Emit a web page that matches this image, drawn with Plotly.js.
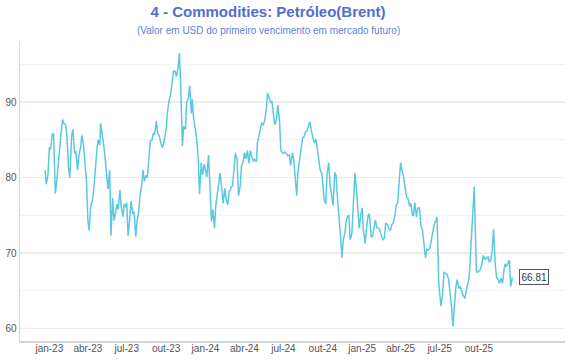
<!DOCTYPE html>
<html>
<head>
<meta charset="utf-8">
<script src="https://cdn.plot.ly/plotly-3.0.1.min.js"></script>
<style>
  html, body { margin: 0; padding: 0; background: #ffffff; }
  #chart { width: 570px; height: 360px; }
</style>
</head>
<body>
<div id="chart"></div>
<script>
const titleText = '4 - Commodities: Petróleo(Brent)';
const subtitleText = '(Valor em USD do primeiro vencimento em mercado futuro)';

const tickVals = ['2023-01-01','2023-04-01','2023-07-01','2023-10-01','2024-01-01','2024-04-01','2024-07-01','2024-10-01','2025-01-01','2025-04-01','2025-07-01','2025-10-01'];
const tickText = ['jan-23','abr-23','jul-23','out-23','jan-24','abr-24','jul-24','out-24','jan-25','abr-25','jul-25','out-25'];

const dates = [
  '2022-12-22','2022-12-25','2022-12-29',
  '2023-01-01','2023-01-04','2023-01-08','2023-01-11','2023-01-15','2023-01-18','2023-01-22','2023-01-25','2023-01-29',
  '2023-02-01','2023-02-04','2023-02-08','2023-02-11','2023-02-15','2023-02-18','2023-02-22','2023-02-25',
  '2023-03-01','2023-03-04','2023-03-08','2023-03-11','2023-03-15','2023-03-18','2023-03-22','2023-03-25','2023-03-29',
  '2023-04-01','2023-04-04','2023-04-08','2023-04-11','2023-04-15','2023-04-18','2023-04-22','2023-04-25','2023-04-29',
  '2023-05-01','2023-05-04','2023-05-08','2023-05-11','2023-05-15','2023-05-18','2023-05-22','2023-05-25','2023-05-29',
  '2023-06-01','2023-06-04','2023-06-08','2023-06-11','2023-06-15','2023-06-18','2023-06-22','2023-06-25','2023-06-29',
  '2023-07-01','2023-07-04','2023-07-08','2023-07-11','2023-07-15','2023-07-18','2023-07-22','2023-07-25','2023-07-29',
  '2023-08-01','2023-08-04','2023-08-08','2023-08-11','2023-08-15','2023-08-18','2023-08-22','2023-08-25','2023-08-29',
  '2023-09-01','2023-09-04','2023-09-08','2023-09-11','2023-09-15','2023-09-18','2023-09-22','2023-09-25','2023-09-29',
  '2023-10-01','2023-10-04','2023-10-08','2023-10-11','2023-10-15','2023-10-18','2023-10-22','2023-10-25','2023-10-29',
  '2023-11-01','2023-11-04','2023-11-08','2023-11-11','2023-11-15','2023-11-18','2023-11-22','2023-11-25','2023-11-29',
  '2023-12-01','2023-12-04','2023-12-08','2023-12-11','2023-12-15','2023-12-18','2023-12-22','2023-12-25','2023-12-29',
  '2024-01-01','2024-01-04','2024-01-08','2024-01-11','2024-01-15','2024-01-18','2024-01-22','2024-01-25','2024-01-29',
  '2024-02-01','2024-02-04','2024-02-08','2024-02-11','2024-02-15','2024-02-18','2024-02-22','2024-02-25','2024-02-29',
  '2024-03-01','2024-03-04','2024-03-08','2024-03-11','2024-03-15','2024-03-18','2024-03-22','2024-03-25','2024-03-29',
  '2024-04-01','2024-04-04','2024-04-08','2024-04-11','2024-04-15','2024-04-18','2024-04-22','2024-04-25','2024-04-29',
  '2024-05-01','2024-05-04','2024-05-08','2024-05-11','2024-05-15','2024-05-18','2024-05-22','2024-05-25','2024-05-29',
  '2024-06-01','2024-06-04','2024-06-08','2024-06-11','2024-06-15','2024-06-18','2024-06-22','2024-06-25','2024-06-29',
  '2024-07-01','2024-07-04','2024-07-08','2024-07-11','2024-07-15','2024-07-18','2024-07-22','2024-07-25','2024-07-29',
  '2024-08-01','2024-08-04','2024-08-08','2024-08-11','2024-08-15','2024-08-18','2024-08-22','2024-08-25','2024-08-29',
  '2024-09-01','2024-09-04','2024-09-08','2024-09-11','2024-09-15','2024-09-18','2024-09-22','2024-09-25','2024-09-29',
  '2024-10-01','2024-10-04','2024-10-08','2024-10-11','2024-10-15','2024-10-18','2024-10-22','2024-10-25','2024-10-29',
  '2024-11-01','2024-11-04','2024-11-08','2024-11-11','2024-11-15','2024-11-18','2024-11-22','2024-11-25','2024-11-29',
  '2024-12-01','2024-12-04','2024-12-08','2024-12-11','2024-12-15','2024-12-18','2024-12-22','2024-12-25','2024-12-29',
  '2025-01-01','2025-01-04','2025-01-08','2025-01-11','2025-01-15','2025-01-18','2025-01-22','2025-01-25','2025-01-29',
  '2025-02-01','2025-02-04','2025-02-08','2025-02-11','2025-02-15','2025-02-18','2025-02-22','2025-02-25',
  '2025-03-01','2025-03-04','2025-03-08','2025-03-11','2025-03-15','2025-03-18','2025-03-22','2025-03-25','2025-03-29',
  '2025-04-01','2025-04-04','2025-04-08','2025-04-11','2025-04-15','2025-04-18','2025-04-22','2025-04-25','2025-04-29',
  '2025-05-01','2025-05-04','2025-05-08','2025-05-11','2025-05-15','2025-05-18','2025-05-22','2025-05-25','2025-05-29',
  '2025-06-01','2025-06-04','2025-06-08','2025-06-11','2025-06-15','2025-06-18','2025-06-22','2025-06-25','2025-06-29',
  '2025-07-01','2025-07-04','2025-07-08','2025-07-11','2025-07-15','2025-07-18','2025-07-22','2025-07-25','2025-07-29',
  '2025-08-01','2025-08-04','2025-08-08','2025-08-11','2025-08-15','2025-08-18','2025-08-22','2025-08-25','2025-08-29',
  '2025-09-01','2025-09-04','2025-09-08','2025-09-11','2025-09-15','2025-09-18','2025-09-20','2025-09-22','2025-09-25','2025-09-29',
  '2025-10-01','2025-10-04','2025-10-08','2025-10-11','2025-10-15','2025-10-18','2025-10-22','2025-10-25','2025-10-29',
  '2025-11-01','2025-11-04','2025-11-08','2025-11-11','2025-11-15','2025-11-18','2025-11-22','2025-11-25','2025-11-29',
  '2025-12-01','2025-12-04','2025-12-08','2025-12-11','2025-12-14','2025-12-16','2025-12-18'
];

const prices = [
  81.0, 79.1, 80.5,
  83.9, 83.8, 85.8, 85.8, 77.9, 79.3, 82.0, 84.5, 86.2,
  87.7, 87.2, 87.0, 85.7, 81.2, 80.0, 85.5, 86.4,
  83.2, 83.5, 81.0, 82.9, 84.0, 85.6, 84.3, 81.8, 79.5,
  74.4, 73.0, 76.4, 76.8, 78.5, 80.9, 83.6, 85.0, 84.3,
  87.2, 86.1, 84.3, 82.8, 79.6, 78.5, 81.0, 72.3, 77.3,
  74.3, 75.1, 76.5, 75.8, 78.4, 76.2, 74.8, 76.5, 76.1,
  76.7, 72.3, 74.5, 76.9, 75.2, 75.5, 72.2, 74.2, 75.5,
  77.7, 78.6, 81.0, 79.5, 80.3, 80.0, 83.2, 84.8, 85.0,
  85.9, 85.7, 87.5, 86.0, 85.5, 84.7, 84.0, 84.5, 85.7,
  86.4, 88.6, 90.3, 90.8, 93.2, 94.1, 94.1, 93.4, 94.6,
  96.5, 92.0, 84.2, 86.8, 86.4, 90.0, 90.5, 92.2, 88.5,
  90.4, 88.0, 86.5, 85.3, 82.5, 77.8, 82.0, 80.4, 81.8,
  80.7, 80.1, 83.0, 78.7, 74.2, 75.8, 73.3, 76.3, 77.8,
  79.1, 80.6, 78.6, 76.6, 78.6, 77.2, 76.4, 78.1, 78.5,
  78.8, 78.9, 81.0, 83.3, 82.3, 77.6, 78.8, 81.6, 82.1,
  83.3, 82.5, 83.6, 81.9, 83.6, 82.8, 82.2, 82.4, 82.1,
  84.5, 85.5, 86.4, 87.2, 87.0, 87.5, 89.0, 91.2, 90.4,
  90.0, 90.1, 88.5, 87.0, 87.8, 89.6, 87.5, 83.6, 83.3,
  83.2, 83.4, 83.2, 82.9, 83.0, 81.6, 83.3, 82.5, 79.0,
  77.6, 80.8, 82.4, 83.3, 85.3, 85.4, 86.1, 86.2, 86.9,
  87.4, 86.3, 85.2, 84.6, 85.1, 83.8, 82.3, 81.0, 80.5,
  79.3, 77.2, 76.5, 80.5, 82.0, 79.0, 77.5, 76.3, 80.7,
  80.3, 77.6, 74.0, 72.5, 69.4, 71.8, 72.8, 74.4, 75.0,
  75.0, 71.8, 72.6, 76.0, 80.6, 79.0, 75.8, 73.3, 75.1,
  76.0, 73.0, 71.3, 73.2, 75.0, 75.2, 72.2, 72.2, 73.2,
  74.4, 73.4, 73.3, 73.1, 72.2, 71.8, 72.0, 74.0,
  73.8, 73.3, 73.0, 73.7, 74.1, 74.8, 76.5, 76.6, 79.9,
  82.0, 81.0, 80.1, 78.8, 77.4, 77.3, 76.2, 76.6, 74.9,
  75.0, 76.7, 74.8, 76.0, 76.0, 73.8, 73.0, 71.0, 69.4,
  70.5, 70.4, 70.6, 71.7, 72.8, 73.7, 74.3, 74.8, 66.0,
  64.2, 63.0, 64.5, 67.5, 67.3, 67.2, 66.6, 65.2, 62.8,
  60.3, 62.6, 65.5, 66.5, 65.3, 65.6, 64.9, 64.4, 64.0,
  65.2, 65.8, 66.7, 70.0, 73.2, 77.0, 78.8, 74.0, 67.5, 67.5,
  67.6, 67.8, 68.6, 69.7, 69.2, 69.3, 69.5, 68.8, 69.2,
  70.5, 73.2, 68.5, 66.8, 66.5, 66.0, 66.7, 66.0, 68.0,
  68.6, 68.2, 68.8, 69.1, 65.6, 66.6, 66.81
];

const lastDate = dates[dates.length - 1];
const lastPrice = prices[prices.length - 1];

const FONT = 'Liberation Sans, Arial, Helvetica, sans-serif';

const trace = {
  x: dates,
  y: prices,
  type: 'scatter',
  mode: 'lines',
  line: { color: '#5bc8e0', width: 1.5 },
  hoverinfo: 'skip'
};

const layout = {
  width: 570,
  height: 360,
  margin: { l: 20, r: 5, t: 41, b: 19, pad: 0 },
  paper_bgcolor: '#ffffff',
  plot_bgcolor: '#ffffff',
  showlegend: false,
  hovermode: false,
  font: { family: FONT, size: 10, color: '#555555' },
  title: {
    text: titleText,
    font: { family: FONT, size: 15, color: '#4f6fcf', weight: 'bold' },
    xref: 'container', x: 268 / 570, xanchor: 'center',
    yref: 'container', y: 1 - 12 / 360, yanchor: 'middle'
  },
  xaxis: {
    type: 'date',
    range: ['2022-10-24 12:00', '2026-04-20'],
    tickmode: 'array',
    tickvals: tickVals,
    ticktext: tickText,
    showgrid: false,
    zeroline: false,
    showline: true,
    linecolor: '#d4d4d4',
    linewidth: 1.5,
    ticks: '',
    ticklabelstandoff: -3,
    tickfont: { family: FONT, size: 10, color: '#555555' },
    automargin: false,
    fixedrange: true
  },
  yaxis: {
    range: [58.37, 98.1],
    tick0: 0,
    dtick: 10,
    showgrid: true,
    gridcolor: '#ececec',
    gridwidth: 1.5,
    minor: { tick0: 0, dtick: 5, showgrid: true, gridcolor: '#f2f2f2', gridwidth: 1 },
    zeroline: false,
    showline: true,
    linecolor: '#d4d4d4',
    linewidth: 1.5,
    ticks: '',
    tickfont: { family: FONT, size: 10, color: '#555555' },
    automargin: false,
    fixedrange: true
  },
  annotations: [
    {
      text: subtitleText,
      xref: 'paper', yref: 'paper',
      x: (268 - 20) / 545, y: (341 - 30) / 300,
      xanchor: 'center', yanchor: 'middle',
      showarrow: false,
      font: { family: FONT, size: 10, color: '#5f7fd6' }
    },
    {
      text: String(lastPrice),
      x: lastDate, y: lastPrice,
      xref: 'x', yref: 'y',
      xanchor: 'left', yanchor: 'middle',
      xshift: 7,
      showarrow: false,
      bgcolor: '#ffffff',
      bordercolor: '#555555',
      borderwidth: 1,
      borderpad: 1.5,
      font: { family: FONT, size: 10, color: '#333333' }
    }
  ]
};

Plotly.newPlot('chart', [trace], layout, { staticPlot: true, displayModeBar: false, responsive: false });
</script>
</body>
</html>
